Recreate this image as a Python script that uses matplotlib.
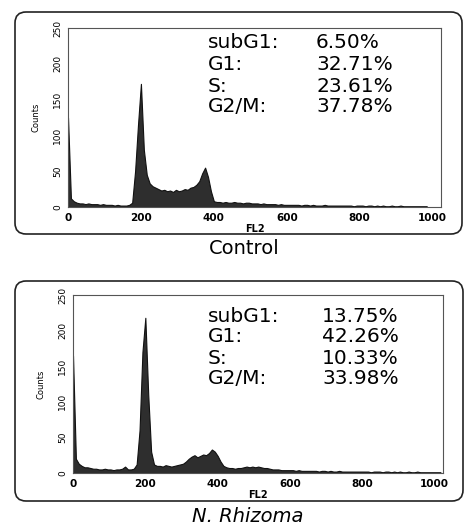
import numpy as np
import matplotlib
matplotlib.use("Agg")
import matplotlib.pyplot as plt
from matplotlib.patches import FancyBboxPatch
from matplotlib.transforms import IdentityTransform

# histogram counts, one value every 8 FL2 channels (0, 8, 16, ... 1016)
control_counts = (
    [125, 12, 8, 6, 5, 5, 4, 5, 4, 4, 4, 3, 4, 3, 3, 3, 2, 3, 2, 2, 2, 3]          # 0-168
    + [6, 50, 115, 172, 80, 45, 33, 29, 27, 25, 23, 24, 22, 23, 21, 24, 22, 23]    # 176-312
    + [25, 24, 27, 28, 31, 36, 47, 55, 42, 22, 8]                                  # 320-400
    + [7, 7, 6, 7, 6, 6, 7, 6, 6, 5, 6, 6, 5, 5, 5, 4, 5, 4, 4, 4, 4, 3, 4, 3]     # 408-592
    + [3, 3, 3, 3, 3, 2, 3, 3, 2, 3, 2, 2, 2, 3, 2, 2, 2, 2, 2, 2, 2, 2, 2, 1,
       2, 2, 2, 1, 2, 2, 1, 2, 1, 2, 1, 1, 2, 1, 1, 2, 1, 1, 1, 1, 1, 1, 1, 1, 1]  # 600-1016
)
rhizoma_counts = (
    [165, 20, 13, 10, 8, 8, 7, 6, 6, 5, 5, 6, 5, 5, 4, 5, 5, 6, 9, 5, 5, 6]        # 0-168
    + [12, 60, 170, 218, 110, 30, 12, 10, 10, 9, 11, 10, 9, 10, 11, 12, 13, 16]   # 176-312
    + [20, 23, 25, 22, 24, 26, 25, 28, 33, 30, 24, 16, 10]                         # 320-416
    + [8, 7, 7, 6, 7, 7, 8, 9, 8, 9, 8, 9, 8, 7, 7, 6, 5, 5, 5, 4, 4, 4]           # 424-592
    + [4, 4, 3, 4, 3, 3, 3, 3, 3, 3, 2, 3, 3, 2, 3, 2, 2, 3, 2, 2, 2, 2, 2, 2,
       2, 2, 2, 2, 1, 2, 2, 2, 1, 2, 2, 1, 2, 1, 2, 1, 1, 2, 1, 1, 2, 1, 1, 1,
       1, 1, 1, 1, 1]                                                              # 600-1016
)

phases = ["subG1:", "G1:", "S:", "G2/M:"]
control_pct = ["6.50%", "32.71%", "23.61%", "37.78%"]
rhizoma_pct = ["13.75%", "42.26%", "10.33%", "33.98%"]

x_ticks = [0, 200, 400, 600, 800, 1000]
y_ticks = [0, 50, 100, 150, 200, 250]

W, H = 465, 527


def fx(px):
    return px / W


def fy(py):
    return 1 - py / H


def draw_panel(fig, rect, counts, box, text_x, text_y, pct, val_x, caption, caption_y, italic):
    left, top, right, bottom = rect
    ax = fig.add_axes([fx(left), fy(bottom), fx(right - left), (bottom - top) / H])

    chans = np.arange(len(counts)) * 8
    ax.fill_between(chans, counts, 0, facecolor="#2e2e2e", edgecolor="#111111", linewidth=0.8)

    ax.set_xlim(0, 1023)
    ax.set_ylim(0, 250)
    ax.set_xticks(x_ticks)
    ax.set_xticklabels([str(t) for t in x_ticks], fontsize=7.5, fontweight="bold")
    ax.set_yticks(y_ticks)
    ax.set_yticklabels([str(t) for t in y_ticks], fontsize=6.5, rotation=90, va="center")
    ax.tick_params(length=0, pad=4)
    ax.set_xlabel("FL2", fontsize=7, fontweight="bold", labelpad=1)
    ax.set_ylabel("Counts", fontsize=6, labelpad=9)
    for s in ax.spines.values():
        s.set_color("#555555")
        s.set_linewidth(0.8)

    # phase percentages
    for i, (name, val) in enumerate(zip(phases, pct)):
        fig.text(fx(text_x), fy(text_y[i]), name, fontsize=14.5, va="center", ha="left")
        fig.text(fx(val_x), fy(text_y[i]), val, fontsize=14.5, va="center", ha="left")

    # rounded frame around the panel, in pixels
    bx0, by0, bx1, by1 = box
    frame = FancyBboxPatch((bx0, H - by1), bx1 - bx0, by1 - by0,
                           boxstyle="round,pad=0,rounding_size=11",
                           transform=IdentityTransform(), facecolor="none",
                           edgecolor="#222222", linewidth=1.2)
    fig.patches.append(frame)

    fig.text(fx((left + right) / 2 - 10), fy(caption_y), caption, fontsize=14,
             ha="center", va="center", style="italic" if italic else "normal")
    return ax


fig = plt.figure(figsize=(W / 100, H / 100), dpi=100)

draw_panel(fig, (68, 28, 441, 207), control_counts, (15, 12, 462, 234),
           208, [43, 65, 86, 107], control_pct, 316, "Control", 248, False)
draw_panel(fig, (73, 295, 443, 473), rhizoma_counts, (15, 281, 463, 501),
           208, [316, 337, 358, 379], rhizoma_pct, 322, "N. Rhizoma", 517, True)

fig.savefig("out.png", dpi=100)
